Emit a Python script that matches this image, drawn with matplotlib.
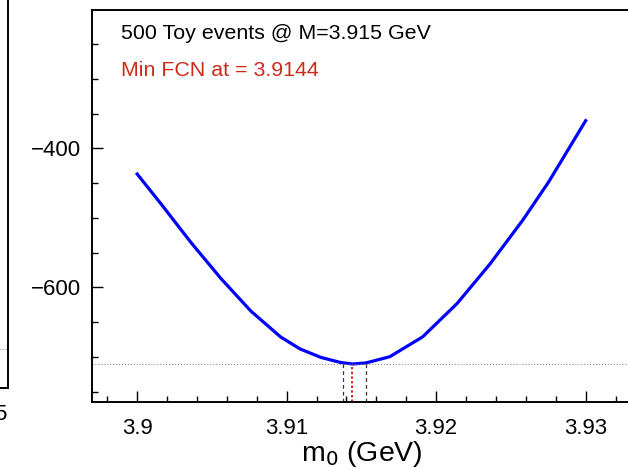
"""FCN scan over m0 for 500 toy events"""

import matplotlib.pyplot as plt
from matplotlib.ticker import MultipleLocator

plt.rcParams['font.family'] = ['Liberation Sans', 'DejaVu Sans']

# FCN scan
m0 = [3.9000, 3.9016, 3.9036, 3.9056, 3.9076, 3.9096, 3.9109, 3.9123,
      3.9136, 3.9144, 3.9153, 3.9169, 3.9191, 3.9214, 3.9236, 3.9258,
      3.9275, 3.9300]
fcn = [-437.0, -480.1, -535.5, -587.2, -634.0, -671.4, -688.6, -700.8,
       -708.0, -710.2, -708.7, -699.7, -671.1, -623.2, -566.4, -503.1,
       -449.2, -360.3]

m_best = 3.9144
m_lo = 3.9138
m_hi = 3.9153
fcn_min = -710.2

title_text = "500 Toy events @ M=3.915 GeV"
min_text = "Min FCN at = 3.9144"

fig = plt.figure(figsize=(6.28, 4.69), dpi=100)

# piece of the neighbouring pad, cut off at the left edge
ax0 = fig.add_axes([-0.5, 0.1733, 0.5132, 1.0])
ax0.set_xlim(0, 1)
ax0.set_ylim(0, 1)
ax0.axhline(0.0826, color='#888888', linestyle=':', linewidth=0.8)
ax0.set_xticks([0.9766])
ax0.set_xticklabels(['5'])
ax0.set_yticks([])
ax0.tick_params(axis='x', length=0, labelsize=16, pad=12)
for side in ['top', 'left']:
    ax0.spines[side].set_visible(False)
for side in ['right', 'bottom']:
    ax0.spines[side].set_linewidth(1.4)

# main pad
ax = fig.add_axes([0.147, 0.1422, 0.857, 0.8365])
ax.plot(m0, fcn, color='#0000ff', linewidth=2.3, solid_joinstyle='round')
ax.axhline(fcn_min, color='#888888', linestyle=':', linewidth=0.8)
ax.vlines([m_lo, m_hi], -765.3, fcn_min, colors='#333333',
          linestyles=(0, (3, 2.5)), linewidth=0.9)
ax.vlines(m_best, -765.3, fcn_min, colors='#dd2211',
          linestyles=(0, (1.2, 1.2)), linewidth=1.4)

ax.set_xlim(3.897, 3.933)
ax.set_ylim(-765.3, -201.1)
ax.xaxis.set_major_locator(MultipleLocator(0.01))
ax.xaxis.set_minor_locator(MultipleLocator(0.002))
ax.yaxis.set_major_locator(MultipleLocator(200))
ax.yaxis.set_minor_locator(MultipleLocator(50))
ax.set_xticks([3.9, 3.91, 3.92, 3.93])
ax.set_xticklabels(['3.9', '3.91', '3.92', '3.93'])
ax.tick_params(which='both', direction='in', top=False, right=False,
               labelsize=16, width=1.0)
ax.tick_params(which='major', length=8)
ax.tick_params(which='minor', length=4)
ax.tick_params(axis='x', pad=11)
ax.tick_params(axis='y', pad=8)
for side in ax.spines.values():
    side.set_linewidth(1.4)

ax.set_xlabel("m$_0$ (GeV)", fontsize=20.5, labelpad=0)

ax.text(0.053, 0.925, title_text, transform=ax.transAxes, fontsize=15.4,
        color='black', va='baseline')
ax.text(0.053, 0.832, min_text, transform=ax.transAxes, fontsize=15.4,
        color='#cc2a1a', va='baseline')

fig.savefig('out.png', dpi=100)
